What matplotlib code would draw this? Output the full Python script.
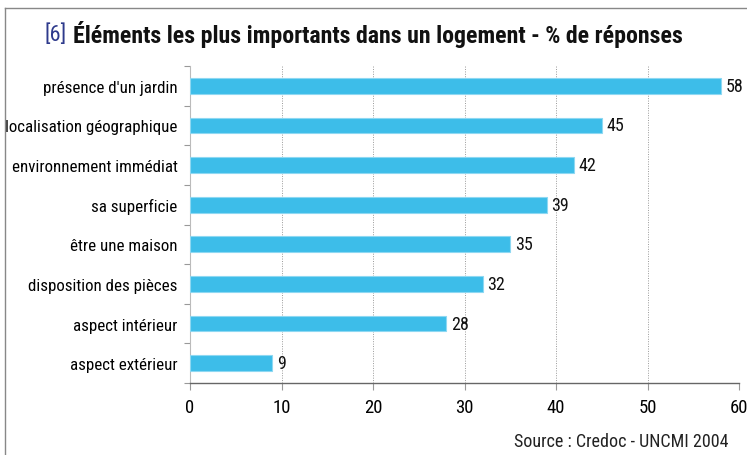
import matplotlib
matplotlib.use("Agg")
import matplotlib.pyplot as plt
from matplotlib import font_manager as fm
from matplotlib.lines import Line2D

names = {f.name for f in fm.fontManager.ttflist}
cond = None
for cand in ["Liberation Sans Narrow", "Roboto Condensed", "DejaVu Sans Condensed", "Open Sans Condensed"]:
    if cand in names:
        cond = cand
        break
if cond is None:
    cond = "DejaVu Sans"

categories = ["présence d'un jardin", "localisation géographique", "environnement immédiat",
              "sa superficie", "être une maison", "disposition des pièces",
              "aspect intérieur", "aspect extérieur"]
values = [58, 45, 42, 39, 35, 32, 28, 9]
xticks = [0, 10, 20, 30, 40, 50, 60]
title_num = "[6]"
title_text = "Éléments les plus importants dans un logement - % de réponses"
source = "Source : Credoc - UNCMI 2004"

W, H = 747, 456
fig = plt.figure(figsize=(W / 100, H / 100), dpi=100)
ax = fig.add_axes([190 / W, 1 - 384 / H, (739 - 190) / W, (384 - 67) / H])

y = list(range(len(categories)))
ax.barh(y, values, height=0.4, color="#3DBDE9", edgecolor="#8ED8F2", linewidth=0.8, zorder=3)
for yi, v in zip(y, values):
    ax.text(v + 0.5, yi, str(v), va="center", ha="left", fontsize=13, family=cond, color="#111111")

ax.set_xlim(0, 60)
ax.set_ylim(len(categories) - 0.5, -0.5)
ax.set_xticks(xticks)
ax.set_xticklabels([str(t) for t in xticks], family=cond, fontsize=13.5)
ax.set_yticks(y)
ax.set_yticklabels(categories, family=cond, fontsize=12.2)
ax.tick_params(axis="y", length=0, pad=9)
ax.set_yticks([i + 0.5 for i in range(-1, len(categories))], minor=True)
ax.tick_params(axis="y", which="minor", length=4, color="#999999", width=0.8)
ax.tick_params(axis="x", length=5, color="#999999", width=0.8, pad=6)
ax.xaxis.grid(True, linestyle=(0, (1, 1.5)), color="#999999", linewidth=0.7, zorder=0)
for s in ["top", "right"]:
    ax.spines[s].set_visible(False)
ax.spines["left"].set_color("#bbbbbb")
ax.spines["left"].set_linewidth(0.8)
ax.spines["bottom"].set_color("#666666")
ax.spines["bottom"].set_linewidth(1.0)

# title
fig.text(44 / W, 1 - 35 / H, title_num, family=cond, fontsize=16, color="#2E3A8C", va="center", ha="left")
fig.text(73 / W, 1 - 35 / H, title_text, family=cond, fontsize=17.2, fontweight="bold",
         color="#111111", va="center", ha="left")
fig.text(729 / W, 1 - 442 / H, source, family=cond, fontsize=13, color="#222222", ha="right", va="center")

# frame (left and top)
fig.add_artist(Line2D([5 / W, 5 / W], [0, 1 - 9 / H], transform=fig.transFigure, color="#888888", lw=1))
fig.add_artist(Line2D([5 / W, 1], [1 - 9 / H, 1 - 9 / H], transform=fig.transFigure, color="#888888", lw=1))

fig.savefig("out.png", dpi=100)
